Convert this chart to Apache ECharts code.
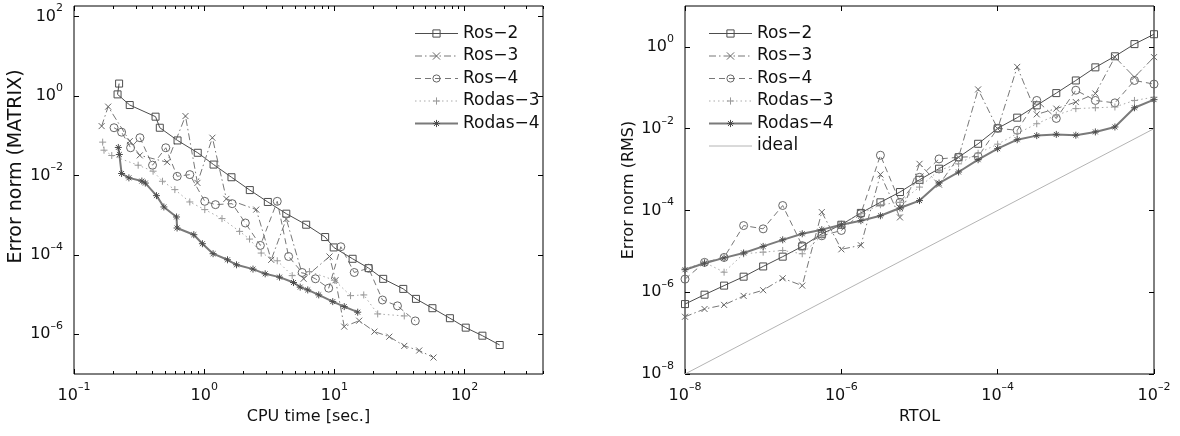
<!DOCTYPE html>
<html>
<head>
<meta charset="utf-8">
<title>Error norm vs CPU time / RTOL</title>
<script src="https://cdn.jsdelivr.net/npm/echarts@6/dist/echarts.min.js"></script>
<style>
  html, body { margin: 0; padding: 0; background: #fff; }
  #chart { width: 1180px; height: 436px; }
</style>
</head>
<body>
<div id="chart"></div>
<script>
// ---- left panel: error norm (MATRIX) against CPU time, each method has its own times
const cpuRos2 = [0.222, 0.216, 0.268, 0.423, 0.456, 0.624, 0.892, 1.18, 1.62, 2.24, 3.08, 4.27, 6.07, 8.49, 9.88, 13.8, 18.3, 23.7, 33.8, 42.3, 56.6, 77.1, 102, 137, 186];
const errRos2 = [2.06, 1.10, 0.593, 0.302, 0.159, 0.0761, 0.0372, 0.0188, 0.00901, 0.00428, 0.00215, 0.00109, 5.75e-4, 2.81e-4, 1.54e-4, 7.97e-5, 4.64e-5, 2.49e-5, 1.39e-5, 7.79e-6, 4.54e-6, 2.54e-6, 1.47e-6, 9.22e-7, 5.37e-7];

const cpuRos3 = [0.163, 0.183, 0.268, 0.32, 0.52, 0.718, 0.887, 1.156, 1.48, 2.51, 3.27, 4.27, 5.8, 9.17, 10.2, 11.9, 15.5, 20.3, 26.4, 34.4, 44.8, 57.7];
const errRos3 = [0.175, 0.54, 0.073, 0.032, 0.0216, 0.313, 0.0065, 0.089, 0.00257, 0.00138, 7.5e-5, 8e-4, 2.5e-5, 9.1e-5, 2.3e-5, 1.56e-6, 2.2e-6, 1.17e-6, 8.7e-7, 5.1e-7, 3.9e-7, 2.6e-7];

const cpuRos4 = [0.203, 0.232, 0.272, 0.321, 0.401, 0.507, 0.62, 0.775, 1.01, 1.22, 1.64, 2.07, 2.70, 3.64, 4.45, 5.65, 7.15, 9.04, 11.2, 14.2, 18.3, 23.4, 30.5, 41.8];
const errRos4 = [0.159, 0.123, 0.0498, 0.089, 0.0181, 0.0498, 0.0095, 0.0105, 0.00223, 0.00184, 0.00195, 6.35e-4, 1.73e-4, 0.00223, 9.1e-5, 3.6e-5, 2.5e-5, 1.45e-5, 1.6e-4, 3.6e-5, 4.6e-5, 7.3e-6, 5.2e-6, 2.17e-6];

const cpuRodas3 = [0.166, 0.17, 0.195, 0.311, 0.405, 0.478, 0.595, 0.775, 1.01, 1.37, 1.87, 2.23, 2.74, 3.64, 4.74, 6.43, 10.0, 13.3, 16.8, 21.5, 34.4];
const errRodas3 = [0.069, 0.0433, 0.0318, 0.0181, 0.0128, 0.00714, 0.0044, 0.00215, 0.00138, 8.2e-4, 3.9e-4, 2.5e-4, 1.11e-4, 7.1e-5, 3.0e-5, 3.8e-5, 2.3e-5, 9.4e-6, 9.8e-6, 3.26e-6, 2.9e-6];

const cpuRodas4 = [0.219, 0.223, 0.232, 0.264, 0.332, 0.353, 0.43, 0.49, 0.613, 0.619, 0.832, 0.969, 1.17, 1.51, 1.77, 2.37, 2.94, 3.79, 4.85, 5.46, 6.24, 7.58, 9.71, 11.9, 15.1];
const errRodas4 = [0.0507, 0.0337, 0.0112, 0.0087, 0.00722, 0.00643, 0.0031, 0.00161, 9.0e-4, 4.75e-4, 3.22e-4, 1.91e-4, 1.07e-4, 7.52e-5, 5.62e-5, 4.38e-5, 3.33e-5, 2.75e-5, 2.01e-5, 1.54e-5, 1.31e-5, 9.83e-6, 6.65e-6, 4.98e-6, 3.6e-6];

// ---- right panel: error norm (RMS) against RTOL
const rtol = [1e-8, 1.778e-8, 3.162e-8, 5.623e-8, 1e-7, 1.778e-7, 3.162e-7, 5.623e-7, 1e-6, 1.778e-6, 3.162e-6, 5.623e-6, 1e-5, 1.778e-5, 3.162e-5, 5.623e-5, 1e-4, 1.778e-4, 3.162e-4, 5.623e-4, 1e-3, 1.778e-3, 3.162e-3, 5.623e-3, 1e-2];
const rmsRos2 = [5.13e-7, 8.71e-7, 1.45e-6, 2.40e-6, 4.27e-6, 7.41e-6, 1.32e-5, 2.69e-5, 4.47e-5, 8.71e-5, 1.58e-4, 2.82e-4, 5.62e-4, 1.05e-3, 2.0e-3, 4.27e-3, 0.0102, 0.0186, 0.0372, 0.0741, 0.151, 0.316, 0.589, 1.17, 2.04];
const rmsRos3 = [2.51e-7, 3.89e-7, 4.90e-7, 8.13e-7, 1.12e-6, 2.19e-6, 1.45e-6, 9.12e-5, 1.12e-5, 1.41e-5, 7.59e-4, 6.76e-5, 1.38e-3, 4.27e-4, 2.0e-3, 0.0912, 0.0100, 0.324, 0.0224, 0.0309, 0.0447, 0.0724, 0.562, 0.182, 0.562];
const rmsRos4 = [2.09e-6, 5.37e-6, 7.08e-6, 4.27e-5, 3.55e-5, 1.32e-4, 1.38e-5, 2.40e-5, 3.24e-5, 8.32e-5, 2.24e-3, 1.58e-4, 6.46e-4, 1.82e-3, 2.0e-3, 2.09e-3, 0.0102, 0.00912, 0.049, 0.0178, 0.0871, 0.049, 0.0427, 0.151, 0.123];
const rmsRodas3 = [3.72e-6, 5.37e-6, 3.09e-6, 8.71e-6, 9.55e-6, 1.05e-5, 8.71e-6, 2.40e-5, 4.68e-5, 8.32e-5, 1.38e-4, 1.58e-4, 3.72e-4, 9.55e-4, 1.38e-3, 2.51e-3, 4.17e-3, 7.59e-3, 0.0132, 0.0214, 0.0309, 0.0324, 0.0339, 0.049, 0.0589];
const rmsRodas4 = [3.55e-6, 5.13e-6, 6.92e-6, 9.12e-6, 1.32e-5, 1.91e-5, 2.69e-5, 3.39e-5, 4.47e-5, 5.62e-5, 7.41e-5, 1.15e-4, 1.74e-4, 4.68e-4, 8.71e-4, 1.74e-3, 3.24e-3, 5.37e-3, 6.76e-3, 7.24e-3, 6.92e-3, 8.32e-3, 0.011, 0.0324, 0.0513];
const idealX = [1e-8, 1e-2];
const idealY = [1e-8, 1e-2];

// tick labels (data units)
const cpuTicks = [0.1, 1, 10, 100];
const errTicksL = [1e-6, 1e-4, 1e-2, 1, 100];
const rtolTicks = [1e-8, 1e-6, 1e-4, 1e-2];
const errTicksR = [1e-8, 1e-6, 1e-4, 1e-2, 1];

const names = ['Ros\u22122', 'Ros\u22123', 'Ros\u22124', 'Rodas\u22123', 'Rodas\u22124'];

const FONT = '"DejaVu Sans", Verdana, sans-serif';
const TXT = '#111';

const X_PATH = 'path://M0,0L10,10M10,0L0,10';
const PLUS_PATH = 'path://M5,0L5,10M0,5L10,5';
const STAR_PATH = 'path://M5,0L5,10M0,5L10,5M1.5,1.5L8.5,8.5M8.5,1.5L1.5,8.5';

const look = [
  { line: '#4d4d4d', width: 1, type: 'solid',         mark: '#4d4d4d', symbol: 'rect',    size: 7 },
  { line: '#777',    width: 1, type: [7, 3, 1.5, 3], mark: '#666',    symbol: X_PATH,    size: 6 },
  { line: '#777',    width: 1, type: [6, 4],          mark: '#666',    symbol: 'circle',  size: 8 },
  { line: '#aaa',    width: 1, type: [1.5, 3],        mark: '#999',    symbol: PLUS_PATH, size: 7 },
  { line: '#7a7a7a', width: 2, type: 'solid',         mark: '#4d4d4d', symbol: STAR_PATH, size: 7 },
];

const pairs = (xs, ys) => xs.map((x, i) => [x, ys[i]]);

const lineSeries = (k, data, xi, yi) => {
  const s = look[k];
  return {
    name: names[k], type: 'line', xAxisIndex: xi, yAxisIndex: yi, data,
    symbol: s.symbol, symbolSize: s.size, showAllSymbol: true,
    lineStyle: { color: s.line, width: s.width, type: s.type },
    itemStyle: { color: 'rgba(0,0,0,0)', borderColor: s.mark, borderWidth: 1 },
    emphasis: { disabled: true },
    animation: false,
  };
};

const expLabel = (v) => {
  const e = Math.round(v);
  return '{b|10}{s|' + (e < 0 ? '\u2013' + (-e) : e) + '}';
};
const rich = {
  b: { fontSize: 16, fontFamily: FONT, color: TXT },
  s: { fontSize: 11, fontFamily: FONT, color: TXT, padding: [0, 0, 16, 0] },
};

// value axes in log10 units, only used to draw ticks/labels over the log axes
const tickAxis = ({ grid, pos, min, max, ticks, len, labels, margin, name, nameGap, nameStyle }) => ({
  type: 'value', gridIndex: grid, position: pos, min, max,
  axisLine: { show: false, onZero: false },
  splitLine: { show: false },
  axisTick: { show: true, inside: true, length: len, customValues: ticks, lineStyle: { color: '#000', width: 1 } },
  axisLabel: labels
    ? { show: true, customValues: ticks, margin, formatter: expLabel, rich }
    : { show: false },
  name: name || '', nameLocation: 'middle', nameGap: nameGap || 0,
  nameTextStyle: Object.assign({ fontSize: 16, fontFamily: FONT, color: TXT }, nameStyle || {}),
  silent: true,
});

const lg = (a) => a.map((v) => Math.log10(v));

const cpuMin = 0.1, cpuMax = 400, errMinL = 1e-7, errMaxL = 185;
const rtolMin = 1e-8, rtolMax = 1e-2, errMinR = 1e-8, errMaxR = 10;

const cpuMinor = [];
cpuTicks.forEach((d) => [2, 3, 4, 5, 6, 7, 8, 9].forEach((m) => { if (d * m <= cpuMax) cpuMinor.push(d * m); }));

const xL = [cpuMin, cpuMax].map(Math.log10);
const yL = [errMinL, errMaxL].map(Math.log10);
const xR = [rtolMin, rtolMax].map(Math.log10);
const yR = [errMinR, errMaxR].map(Math.log10);

const logAxis = (grid, min, max) => ({ type: 'log', logBase: 10, gridIndex: grid, min, max, show: false });

const legendBase = {
  orient: 'vertical', top: 20, itemWidth: 43, itemHeight: 9, itemGap: 5.5, selectedMode: false,
  lineStyle: { width: 'inherit' }, itemStyle: { borderWidth: 'inherit' },
  textStyle: { fontSize: 17, fontFamily: FONT, color: TXT, lineHeight: 17 },
};

const chart = echarts.init(document.getElementById('chart'), null, { renderer: 'canvas' });

const option = {
  backgroundColor: '#fff',
  animation: false,
  textStyle: { fontFamily: FONT },
  grid: [
    { left: 74, top: 6, width: 469, height: 368, show: true, borderColor: '#000', borderWidth: 1, backgroundColor: 'transparent', outerBoundsMode: 'none' },
    { left: 685, top: 6, width: 469, height: 368, show: true, borderColor: '#000', borderWidth: 1, backgroundColor: 'transparent', outerBoundsMode: 'none' },
  ],
  xAxis: [
    logAxis(0, cpuMin, cpuMax),
    tickAxis({ grid: 0, pos: 'bottom', min: xL[0], max: xL[1], ticks: lg(cpuTicks), len: 5, labels: true, margin: 8, name: 'CPU time [sec.]', nameGap: 34 }),
    tickAxis({ grid: 0, pos: 'bottom', min: xL[0], max: xL[1], ticks: lg(cpuMinor), len: 3 }),
    tickAxis({ grid: 0, pos: 'top', min: xL[0], max: xL[1], ticks: lg(cpuTicks), len: 5 }),
    tickAxis({ grid: 0, pos: 'top', min: xL[0], max: xL[1], ticks: lg(cpuMinor), len: 3 }),
    logAxis(1, rtolMin, rtolMax),
    tickAxis({ grid: 1, pos: 'bottom', min: xR[0], max: xR[1], ticks: lg(rtolTicks), len: 5, labels: true, margin: 8, name: 'RTOL', nameGap: 34 }),
    tickAxis({ grid: 1, pos: 'top', min: xR[0], max: xR[1], ticks: lg(rtolTicks), len: 5 }),
  ],
  yAxis: [
    logAxis(0, errMinL, errMaxL),
    tickAxis({ grid: 0, pos: 'left', min: yL[0], max: yL[1], ticks: lg(errTicksL), len: 5, labels: true, margin: 11,
      name: 'Error norm (MATRIX)', nameGap: 48, nameStyle: { fontSize: 19, padding: [0, 0, 0, 47] } }),
    tickAxis({ grid: 0, pos: 'right', min: yL[0], max: yL[1], ticks: lg(errTicksL), len: 5 }),
    logAxis(1, errMinR, errMaxR),
    tickAxis({ grid: 1, pos: 'left', min: yR[0], max: yR[1], ticks: lg(errTicksR), len: 5, labels: true, margin: 11, name: 'Error norm (RMS)', nameGap: 47 }),
    tickAxis({ grid: 1, pos: 'right', min: yR[0], max: yR[1], ticks: lg(errTicksR), len: 5 }),
  ],
  legend: [
    Object.assign({}, legendBase, { data: names, left: 409 }),
    Object.assign({}, legendBase, { data: names.concat(['ideal']), left: 703 }),
  ],
  series: [
    lineSeries(0, pairs(cpuRos2, errRos2), 0, 0),
    lineSeries(1, pairs(cpuRos3, errRos3), 0, 0),
    lineSeries(2, pairs(cpuRos4, errRos4), 0, 0),
    lineSeries(3, pairs(cpuRodas3, errRodas3), 0, 0),
    lineSeries(4, pairs(cpuRodas4, errRodas4), 0, 0),
    lineSeries(0, pairs(rtol, rmsRos2), 5, 3),
    lineSeries(1, pairs(rtol, rmsRos3), 5, 3),
    lineSeries(2, pairs(rtol, rmsRos4), 5, 3),
    lineSeries(3, pairs(rtol, rmsRodas3), 5, 3),
    lineSeries(4, pairs(rtol, rmsRodas4), 5, 3),
    {
      name: 'ideal', type: 'line', xAxisIndex: 5, yAxisIndex: 3,
      data: pairs(idealX, idealY), symbol: 'none',
      lineStyle: { color: '#b4b4b4', width: 1 },
      itemStyle: { color: 'rgba(0,0,0,0)', borderColor: 'rgba(0,0,0,0)' },
      emphasis: { disabled: true }, animation: false,
    },
  ],
};

chart.setOption(option);
</script>
</body>
</html>
